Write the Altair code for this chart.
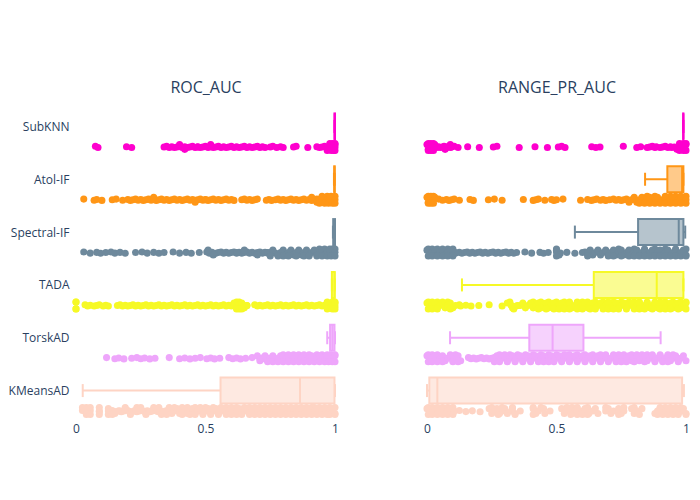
import altair as alt
import pandas as pd

METHODS = ["SubKNN", "Atol-IF", "Spectral-IF", "TADA", "TorskAD", "KMeansAD"]
COLORS = ["#FE00CE", "#FF9616", "#6E899C", "#F6F926", "#EEA6FB", "#FED4C4"]

# box statistics: low whisker, q1, median, q3, high whisker
roc_low = [0.998, 0.996, 0.992, 0.988, 0.97, 0.026]
roc_q1 = [0.998, 0.997, 0.993, 0.988, 0.981, 0.558]
roc_med = [0.999, 0.998, 0.998, 0.998, 0.99, 0.865]
roc_q3 = [1.0, 0.999, 1.0, 0.999, 0.998, 0.998]
roc_high = [1.0, 0.999, 1.0, 0.999, 1.0, 1.0]

pr_low = [0.989, 0.842, 0.571, 0.135, 0.089, 0.0]
pr_q1 = [0.989, 0.928, 0.815, 0.644, 0.395, 0.009]
pr_med = [0.99, 0.985, 0.972, 0.887, 0.485, 0.04]
pr_q3 = [0.99, 0.99, 0.99, 0.99, 0.604, 0.985]
pr_high = [0.99, 0.99, 0.997, 0.99, 0.902, 0.992]

# ROC_AUC points: outer top lane, centre lanes, inner lanes (fill), outer bottom lane
roc_sub_mid = [.075, .085, .195, .215, .34, .35, .36, .37, .38, .39, .40, .41, .42, .43, .44, .45, .46, .47, .48, .49, .50, .51, .52, .53, .54, .55, .56, .57, .58, .59, .60, .61, .62, .63, .64, .65, .66, .67, .68, .69, .70, .71, .72, .73, .75, .76, .775, .79, .80, .84, .85, .895, .93, .94, .95, .96, .97, .98, .99, 1.0]
roc_sub_fill = [.40, .42, .47, .52, .98, .99, 1.0]
roc_sub_up = [.98, .99, 1.0]
roc_sub_low = [.97, .985, .995, 1.0]

roc_ato_mid = [.03, .07, .08, .10, .14, .155, .18, .20, .21, .22, .23, .24, .25, .26, .27, .28, .29, .30, .31, .32, .33, .34, .35, .36, .37, .38, .39, .40, .41, .42, .43, .44, .45, .46, .47, .48, .49, .50, .51, .52, .53, .54, .55, .56, .57, .58, .59, .60, .61, .64, .65, .66, .67, .68, .69, .70, .735, .745, .755, .77, .78, .79, .80, .81, .82, .83, .84, .85, .86, .87, .88, .89, .90, .91, .92, .93, .94, .95]
roc_ato_fill = [.30, .46, .50, .91, .93, .94, .95, .96, .97, .98, .99, 1.0]
roc_ato_up = [.95, .97, .985, 1.0]
roc_ato_low = [.94, .96, .975, .99, 1.0]

roc_spe_mid = [.03, .055, .08, .095, .115, .135, .15, .17, .19, .23, .255, .275, .30, .32, .34, .375, .40, .425, .445, .476, .505, .515, .525, .54, .55, .56, .57, .58, .59, .60, .61, .62, .63, .64, .65, .66, .67, .68, .69, .70, .71, .72, .73, .74, .75, .76, .77]
roc_spe_fill = [.51, .53, .62, .65, .70, .74, .76, .78, .79, .80, .81, .82, .83, .84, .85, .86, .87, .88, .89, .90, .91, .92, .93, .94, .95, .96, .97, .98, .99, 1.0]
roc_spe_up = [.94, .96, .98, .99, 1.0]
roc_spe_low = [.75, .78, .80, .82, .85, .88, .90, .93, .95, .97, .985, 1.0]

roc_tad_mid = [.035, .045, .055, .07, .08, .09, .105, .115, .125, .16, .17, .18, .19, .20, .21, .22, .23, .24, .25, .26, .27, .28, .29, .30, .31, .32, .33, .34, .35, .36, .37, .38, .39, .40, .41, .42, .43, .44, .45, .46, .47, .48, .49, .50, .51, .52, .53, .54, .55, .56, .57, .58, .59, .60, .61, .62, .63, .64, .65, .66, .69, .70, .71, .72, .73, .74, .75, .76, .77, .78, .79, .80, .81, .82, .83, .84, .85, .86, .87, .88, .89, .90, .91, .92, .93, .94, .95, .96, .97, .98, .99, 1.0]
roc_tad_fill = [.61, .62, .63, .64, .65, .66, .97, .98, .99, 1.0]
roc_tad_up = [0.0, .0, .62, .63, .97, .99, 1.0]
roc_tad_low = [0.0, .0, .62, .63, .64, .97, .99, 1.0]

roc_tor_mid = [.118, .15, .165, .185, .215, .235, .25, .265, .285, .305, .36, .40, .42, .44, .46, .48, .505, .52, .535, .555, .59, .605, .62, .635, .655, .68, .71, .72, .73, .74]
roc_tor_fill = [.70, .71, .72, .73, .74, .75, .76, .77, .78, .79, .80, .81, .82, .83, .84, .85, .86, .87, .88, .89, .90, .91, .92, .93, .94, .95, .96, .97, .98, .99, 1.0]
roc_tor_up = [.80, .82, .84, .86, .88, .90, .93, .95, .97, .985, 1.0]
roc_tor_low = [.74, .76, .78, .80, .82, .84, .86, .88, .90, .92, .94, .96, .975, .99, 1.0]

roc_kme_mid = [.025, .04, .055, .09, .125, .14, .15, .165, .175, .185, .20, .21, .225, .235, .245, .255, .265, .275, .285, .295, .305, .315, .325, .335, .345, .355]
roc_kme_fill = [.03, .05, .09, .125, .15, .17, .19, .21, .23, .25, .27, .29, .31, .33, .35, .36, .37, .38, .39, .40, .41, .42, .43, .44, .45, .46, .47, .48, .49, .50, .51, .52, .53, .54, .55, .56, .57, .58, .59, .60, .61, .62, .63, .64, .65, .66, .67, .68, .69, .70, .71, .72, .73, .74, .75, .76, .77, .78, .79, .80, .81, .82, .83, .84, .85, .86, .87, .88, .89, .90, .91, .92, .93, .94, .95, .96, .97, .98, .99, 1.0]
roc_kme_up = [.025, .04, .055, .09, .19, .235, .25, .30, .32, .36, .38, .41, .43, .46, .48, .50, .53, .56, .58, .60, .62, .65, .67, .69, .71, .73, .75, .77, .79, .81, .83, .85, .87, .89, .91, .92, .94, .96, .98, 1.0]
roc_kme_low = [.04, .055, .09, .125, .14, .21, .27, .33, .35, .41, .44, .46, .49, .52, .55, .58, .60, .62, .64, .67, .69, .71, .73, .75, .77, .79, .81, .83, .85, .87, .89, .91, .93, .95, .97, .98, 1.0]

# RANGE_PR_AUC points: outer top lane, centre lanes, inner lanes (fill), outer bottom lane
pr_sub_mid = [.03, .038, .045, .052, .06, .066, .075, .08, .09, .095, .105, .12, .157, .202, .256, .27, .356, .417, .465, .507, .52, .533, .636, .652, .668, .758, .81, .825, .85, .86, .87, .88, .885, .90, .91, .92, .93, .94, .945, .955]
pr_sub_fill = [0.0, .005, .01, .015, .02, .025, .03, .07, .08, .09, .965, .975, .985, .99, .995, 1.0]
pr_sub_up = [.005, .015, .025, .975, .99, 1.0]
pr_sub_low = [.005, .015, .025, .975, .99, 1.0]

pr_ato_mid = [.045, .06, .075, .085, .095, .105, .125, .166, .179, .237, .26, .29, .372, .41, .42, .43, .455, .481, .49, .50, .525, .593, .62, .635, .645, .655, .67, .68, .69, .705, .72, .73, .74, .75, .76, .77, .78]
pr_ato_fill = [0.0, .005, .01, .015, .02, .025, .03, .78, .79, .80, .81, .82, .83, .84, .85, .86, .87, .88, .89, .90, .91, .92, .93, .94, .95, .96, .97, .98, .99, 1.0]
pr_ato_up = [.005, .015, .025, .85, .88, .92, .94, .96, .98, 1.0]
pr_ato_low = [.005, .015, .025, .82, .84, .86, .88, .90, .92, .94, .96, .98, 1.0]

pr_spe_mid = [.10, .11, .125, .135, .145, .155, .165, .175, .185, .195, .205, .215, .225, .235, .245, .255, .265, .275, .285, .295, .305, .315, .325, .335, .346, .378, .404, .436, .45, .468, .50, .515, .54, .571, .60, .61, .62]
pr_spe_fill = [0.0, .01, .02, .03, .04, .05, .06, .07, .08, .09, .10, .11, .50, .51, .62, .63, .64, .65, .66, .67, .68, .69, .70, .71, .72, .73, .74, .75, .76, .77, .78, .79, .80, .81, .82, .83, .84, .85, .86, .87, .88, .89, .90, .91, .92, .93, .94, .95, .96, .97, .98, .99, 1.0]
pr_spe_up = [.005, .02, .04, .06, .08, .10, .50, .74, .80, .84, .88, .92, .96, 1.0]
pr_spe_low = [.005, .02, .04, .06, .08, .10, .50, .62, .70, .72, .75, .78, .80, .82, .84, .86, .88, .90, .92, .94, .96, .98, 1.0]

pr_tad_mid = [.125, .13, .15, .17, .20, .24, .29, .325, .345, .36]
pr_tad_fill = [0.0, .01, .02, .03, .04, .05, .06, .07, .08, .09, .10, .11, .31, .33, .35, .37, .38, .39, .40, .41, .42, .43, .44, .45, .46, .47, .48, .49, .50, .51, .52, .53, .54, .55, .56, .57, .58, .59, .60, .61, .62, .63, .64, .65, .66, .67, .68, .69, .70, .71, .72, .73, .74, .75, .76, .77, .78, .79, .80, .81, .82, .83, .84, .85, .86, .87, .88, .89, .90, .91, .92, .93, .94, .95, .96, .97, .98, .99, 1.0]
pr_tad_up = [.005, .02, .04, .06, .08, .32, .41, .44, .47, .50, .53, .55, .58, .60, .62, .65, .68, .70, .72, .75, .78, .80, .82, .85, .88, .90, .92, .95, .98, 1.0]
pr_tad_low = [.005, .02, .04, .09, .335, .43, .46, .49, .51, .53, .55, .58, .60, .63, .65, .68, .70, .72, .74, .77, .80, .82, .84, .87, .90, .92, .94, .97, 1.0]

pr_tor_mid = [.16, .17, .18, .19, .20, .21, .22, .23, .24, .25, .26]
pr_tor_fill = [0.0, .01, .02, .03, .04, .05, .06, .07, .08, .09, .10, .11, .12, .13, .26, .27, .28, .29, .30, .31, .32, .33, .34, .35, .36, .37, .38, .39, .40, .41, .42, .43, .44, .45, .46, .47, .48, .49, .50, .51, .52, .53, .54, .55, .56, .57, .58, .59, .60, .61, .62, .63, .64, .65, .66, .67, .68, .69, .70, .71, .72, .73, .74, .75, .76, .77, .78, .79, .80, .81, .82, .83, .84, .85, .86, .87, .88, .89, .90, .91, .92, .93, .94, .95, .96, .97, .98, .99, 1.0]
pr_tor_up = [.005, .02, .04, .09, .11, .28, .30, .32, .35, .38, .41, .44, .47, .50, .53, .55, .58, .61, .64, .67, .69, .72, .74, .76, .79, .81, .83, .85, .87, .90, .93, .95]
pr_tor_low = [.005, .02, .04, .06, .10, .12, .26, .28, .31, .34, .37, .40, .43, .45, .47, .49, .52, .55, .58, .61, .64, .67, .70, .73, .75, .77, .80, .84, .88, .91, .93, .97]

pr_kme_mid = [.125, .15, .175, .205]
pr_kme_fill = [0.0, .01, .02, .03, .04, .05, .06, .07, .08, .09, .10, .105, .24, .25, .26, .27, .28, .29, .30, .31, .325, .33, .34, .36, .41, .42, .43, .45, .455, .475, .52, .53, .54, .55, .56, .57, .58, .59, .60, .61, .625, .64, .65, .66, .69, .70, .71, .72, .74, .75, .76, .79, .80, .81, .83, .88, .89, .90, .91, .92, .93, .94, .95, .96, .97, .98, .99, 1.0]
pr_kme_up = [.005, .02, .04, .06, .08, .10, .25, .29, .33, .41, .44, .54, .56, .58, .62, .69, .76, .80, .90, .92, .94, .96, .98]
pr_kme_low = [.005, .02, .04, .06, .08, .10, .275, .34, .41, .555, .58, .60, .62, .74, .82, .89, .91, .93, .95, .97, 1.0]

POINT_BASE = 0.388
OUTER = 0.066                    # outer lanes, in rows
INNER = [-0.046, 0.046, 0.0]      # fill lanes, taken in turn
CENTRE = [-0.012, 0.01, -0.004, 0.012, 0.0]  # centre lanes, taken in turn

ROC_POINTS = [
    (roc_sub_up, roc_sub_mid, roc_sub_fill, roc_sub_low), (roc_ato_up, roc_ato_mid, roc_ato_fill, roc_ato_low),
    (roc_spe_up, roc_spe_mid, roc_spe_fill, roc_spe_low), (roc_tad_up, roc_tad_mid, roc_tad_fill, roc_tad_low),
    (roc_tor_up, roc_tor_mid, roc_tor_fill, roc_tor_low), (roc_kme_up, roc_kme_mid, roc_kme_fill, roc_kme_low),
]
PR_POINTS = [
    (pr_sub_up, pr_sub_mid, pr_sub_fill, pr_sub_low), (pr_ato_up, pr_ato_mid, pr_ato_fill, pr_ato_low),
    (pr_spe_up, pr_spe_mid, pr_spe_fill, pr_spe_low), (pr_tad_up, pr_tad_mid, pr_tad_fill, pr_tad_low),
    (pr_tor_up, pr_tor_mid, pr_tor_fill, pr_tor_low), (pr_kme_up, pr_kme_mid, pr_kme_fill, pr_kme_low),
]

color = alt.Color("method:N", scale=alt.Scale(domain=METHODS, range=COLORS), legend=None)
fill = alt.Fill("method:N", scale=alt.Scale(domain=METHODS, range=COLORS), legend=None)
stroke = alt.Stroke("method:N", scale=alt.Scale(domain=METHODS, range=COLORS), legend=None)


def panel(title, points, low, q1, med, q3, high, show_y):
    rows = []
    for i, (up, mid, fil, lo) in enumerate(points):
        base_row = i + POINT_BASE
        for v in up:
            rows.append({"method": METHODS[i], "v": v, "row": base_row - OUTER})
        for j, v in enumerate(mid):
            rows.append({"method": METHODS[i], "v": v, "row": base_row + CENTRE[j % len(CENTRE)]})
        for j, v in enumerate(fil):
            rows.append({"method": METHODS[i], "v": v, "row": base_row + INNER[j % len(INNER)]})
        for v in lo:
            rows.append({"method": METHODS[i], "v": v, "row": base_row + OUTER})
    pts = pd.DataFrame(rows)
    box = pd.DataFrame({
        "method": METHODS, "row": list(range(6)),
        "top": [i - 0.246 for i in range(6)], "bot": [i + 0.246 for i in range(6)],
        "ctop": [i - 0.123 for i in range(6)], "cbot": [i + 0.123 for i in range(6)],
        "low": low, "q1": q1, "med": med, "q3": q3, "high": high,
    })
    x = alt.X("v:Q", title=None, scale=alt.Scale(domain=[-0.0077, 1.0116], nice=False, zero=False),
              axis=alt.Axis(values=[0, 0.5, 1], format="~g", grid=False, domain=False, ticks=False,
                            labelPadding=6, labelFontSize=12, labelFont="Open Sans",
                            labelColor="#2a3f5f", labelFlush=False))
    if show_y:
        yaxis = alt.Axis(values=[0, 1, 2, 3, 4, 5], grid=False, domain=False, ticks=False,
                         labelExpr="['SubKNN','Atol-IF','Spectral-IF','TADA','TorskAD','KMeansAD'][datum.value]",
                         labelPadding=5, labelFontSize=12, labelFont="Open Sans", labelColor="#2a3f5f")
    else:
        yaxis = None
    y = alt.Y("row:Q", title=None, axis=yaxis,
              scale=alt.Scale(domain=[-0.5, 5.5], reverse=True, nice=False, zero=False))

    point_layer = alt.Chart(pts).mark_circle(size=50, opacity=1, clip=False).encode(x=x, y=y, color=color)
    base = alt.Chart(box)
    whisk_l = base.mark_rule(strokeWidth=2).encode(x="low:Q", x2="q1:Q", y="row:Q", color=color)
    whisk_h = base.mark_rule(strokeWidth=2).encode(x="q3:Q", x2="high:Q", y="row:Q", color=color)
    cap_l = base.mark_rule(strokeWidth=2).encode(x="low:Q", y="ctop:Q", y2="cbot:Q", color=color)
    cap_h = base.mark_rule(strokeWidth=2).encode(x="high:Q", y="ctop:Q", y2="cbot:Q", color=color)
    rect = base.mark_rect(fillOpacity=0.5, strokeWidth=2).encode(
        x="q1:Q", x2="q3:Q", y="top:Q", y2="bot:Q", fill=fill, stroke=stroke)
    median = base.mark_rule(strokeWidth=2).encode(x="med:Q", y="top:Q", y2="bot:Q", color=color)
    return alt.layer(point_layer, whisk_l, whisk_h, cap_l, cap_h, rect, median).properties(
        width=264, height=317,
        title=alt.TitleParams(title, font="Open Sans", fontSize=16, fontWeight="normal",
                              color="#2a3f5f", anchor="middle", offset=4),
    )


left = panel("ROC_AUC", ROC_POINTS, roc_low, roc_q1, roc_med, roc_q3, roc_high, True)
right = panel("RANGE_PR_AUC", PR_POINTS, pr_low, pr_q1, pr_med, pr_q3, pr_high, False)

chart = alt.hconcat(left, right, spacing=84).properties(
    padding={"left": 0, "top": 72, "right": 0, "bottom": 40}, background="white"
).configure_view(stroke=None)

chart.save("out.html", embed_options={"renderer": "svg", "actions": False})
